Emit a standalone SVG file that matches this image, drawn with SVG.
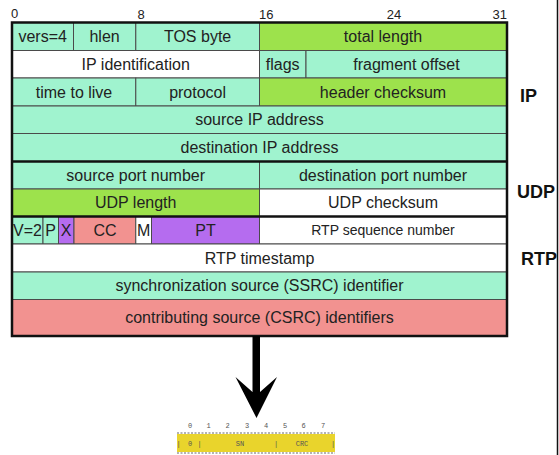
<svg xmlns="http://www.w3.org/2000/svg" width="559" height="455" viewBox="0 0 559 455">
<style>
.aq{fill:#a0f3cf}.lm{fill:#9de24c}.wh{fill:#ffffff}.pk{fill:#f29290}.pu{fill:#b56cef}
rect{stroke:#4a4a4a;stroke-width:1}
text{font-family:"Liberation Sans",Arial,sans-serif;fill:#222}
.f{font-size:16px;text-anchor:middle}
.s{font-size:14px;text-anchor:middle}
.h{font-size:13px}
.lb{font-size:18px;font-weight:bold;fill:#111}
.mini{font-family:"Liberation Mono","DejaVu Sans Mono",monospace;font-size:7px;fill:#555;text-anchor:middle}
.thick{stroke:#111;stroke-width:2.5;fill:none}
.dash{stroke:#666;stroke-width:1;stroke-dasharray:2 1.5}
</style>
<rect x="0" y="0" width="559" height="455" fill="#ffffff" style="stroke:none"/>
<g id="bit-scale">
<text class="h" x="11" y="18">0</text>
<text class="h" x="141" y="19" text-anchor="middle">8</text>
<text class="h" x="259" y="19">16</text>
<text class="h" x="394" y="19" text-anchor="middle">24</text>
<text class="h" x="507" y="19" text-anchor="end">31</text>
</g>
<g id="vers"><rect class="aq" x="12" y="22.5" width="61.5" height="28"/><text class="f" x="42.7" y="42">vers=4</text></g>
<g id="hlen"><rect class="aq" x="73.5" y="22.5" width="62.3" height="28"/><text class="f" x="104.6" y="42">hlen</text></g>
<g id="tos"><rect class="aq" x="135.8" y="22.5" width="123.7" height="28"/><text class="f" x="197.6" y="42">TOS byte</text></g>
<g id="total-length"><rect class="lm" x="259.5" y="22.5" width="247.5" height="28"/><text class="f" x="383" y="42">total length</text></g>
<g id="ip-id"><rect class="wh" x="12" y="50.5" width="247.5" height="27.5"/><text class="f" x="135.7" y="69.5">IP identification</text></g>
<g id="flags"><rect class="aq" x="259.5" y="50.5" width="46.5" height="27.5"/><text class="f" x="282.7" y="69.5">flags</text></g>
<g id="frag"><rect class="aq" x="306" y="50.5" width="201" height="27.5"/><text class="f" x="406.5" y="69.5">fragment offset</text></g>
<g id="ttl"><rect class="aq" x="12" y="78" width="123.8" height="28"/><text class="f" x="74" y="97.5">time to live</text></g>
<g id="protocol"><rect class="aq" x="135.8" y="78" width="123.7" height="28"/><text class="f" x="197.6" y="97.5">protocol</text></g>
<g id="hdr-checksum"><rect class="lm" x="259.5" y="78" width="247.5" height="28"/><text class="f" x="383" y="97.5">header checksum</text></g>
<g id="src-ip"><rect class="aq" x="12" y="106" width="495" height="27.5"/><text class="f" x="259.5" y="125">source IP address</text></g>
<g id="dst-ip"><rect class="aq" x="12" y="133.5" width="495" height="28"/><text class="f" x="259.5" y="153">destination IP address</text></g>
<g id="src-port"><rect class="aq" x="12" y="161.5" width="247.5" height="27.5"/><text class="f" x="135.7" y="180.5">source port number</text></g>
<g id="dst-port"><rect class="aq" x="259.5" y="161.5" width="247.5" height="27.5"/><text class="f" x="383" y="180.5">destination port number</text></g>
<g id="udp-length"><rect class="lm" x="12" y="189" width="247.5" height="27.5"/><text class="f" x="135.7" y="208">UDP length</text></g>
<g id="udp-checksum"><rect class="wh" x="259.5" y="189" width="247.5" height="27.5"/><text class="f" x="383" y="208">UDP checksum</text></g>
<g id="v"><rect class="aq" x="12" y="216.5" width="31" height="27.5"/><text class="f" x="27.5" y="235.5">V=2</text></g>
<g id="p"><rect class="aq" x="43" y="216.5" width="15.5" height="27.5"/><text class="f" x="50.7" y="235.5">P</text></g>
<g id="x"><rect class="pu" x="58.5" y="216.5" width="15.5" height="27.5"/><text class="f" x="66.2" y="235.5">X</text></g>
<g id="cc"><rect class="pk" x="74" y="216.5" width="61.8" height="27.5"/><text class="f" x="105" y="235.5">CC</text></g>
<g id="m"><rect class="wh" x="135.8" y="216.5" width="15.7" height="27.5"/><text class="f" x="143.6" y="235.5">M</text></g>
<g id="pt"><rect class="pu" x="151.5" y="216.5" width="108" height="27.5"/><text class="f" x="205.5" y="235.5">PT</text></g>
<g id="rtp-seq"><rect class="wh" x="259.5" y="216.5" width="247.5" height="27.5"/><text class="s" x="383" y="235">RTP sequence number</text></g>
<g id="rtp-ts"><rect class="wh" x="12" y="244" width="495" height="28"/><text class="f" x="259.5" y="263.5">RTP timestamp</text></g>
<g id="ssrc"><rect class="aq" x="12" y="272" width="495" height="27.5"/><text class="f" x="259.5" y="291">synchronization source (SSRC) identifier</text></g>
<g id="csrc"><rect class="pk" x="12" y="299.5" width="495" height="36.5"/><text class="f" x="259.5" y="323">contributing source (CSRC) identifiers</text></g>
<g id="borders">
<rect class="thick" x="12" y="22.5" width="495" height="313.5"/>
<line class="thick" x1="12" y1="161.5" x2="507" y2="161.5"/>
<line class="thick" x1="12" y1="216.5" x2="507" y2="216.5"/>
</g>
<g id="labels">
<text class="lb" x="520" y="102">IP</text>
<text class="lb" x="517" y="198">UDP</text>
<text class="lb" x="521" y="265">RTP</text>
</g>
<line x1="557.5" y1="0" x2="557.5" y2="455" stroke="#111" stroke-width="1.5"/>
<g id="connectors">
<polygon points="252.5,336 260,336 260,392 277,377 256.5,418 235.5,377 252.5,392" fill="#000"/>
</g>
<g id="rohc-header">
<rect x="177" y="434" width="158" height="18" fill="#e9d42c" style="stroke:none"/>
<line class="dash" x1="177" y1="433" x2="335" y2="433"/>
<line class="dash" x1="177" y1="453" x2="335" y2="453"/>
<text class="mini" x="190" y="428">0</text>
<text class="mini" x="208.5" y="428">1</text>
<text class="mini" x="227.5" y="428">2</text>
<text class="mini" x="247" y="428">3</text>
<text class="mini" x="266" y="428">4</text>
<text class="mini" x="285" y="428">5</text>
<text class="mini" x="303.5" y="428">6</text>
<text class="mini" x="323" y="428">7</text>
<text class="mini" x="178.5" y="446">|</text>
<text class="mini" x="190" y="446">0</text>
<text class="mini" x="199.5" y="446">|</text>
<text class="mini" x="240" y="446">SN</text>
<text class="mini" x="276" y="446">|</text>
<text class="mini" x="302" y="446">CRC</text>
<text class="mini" x="333" y="446">|</text>
</g>
</svg>
